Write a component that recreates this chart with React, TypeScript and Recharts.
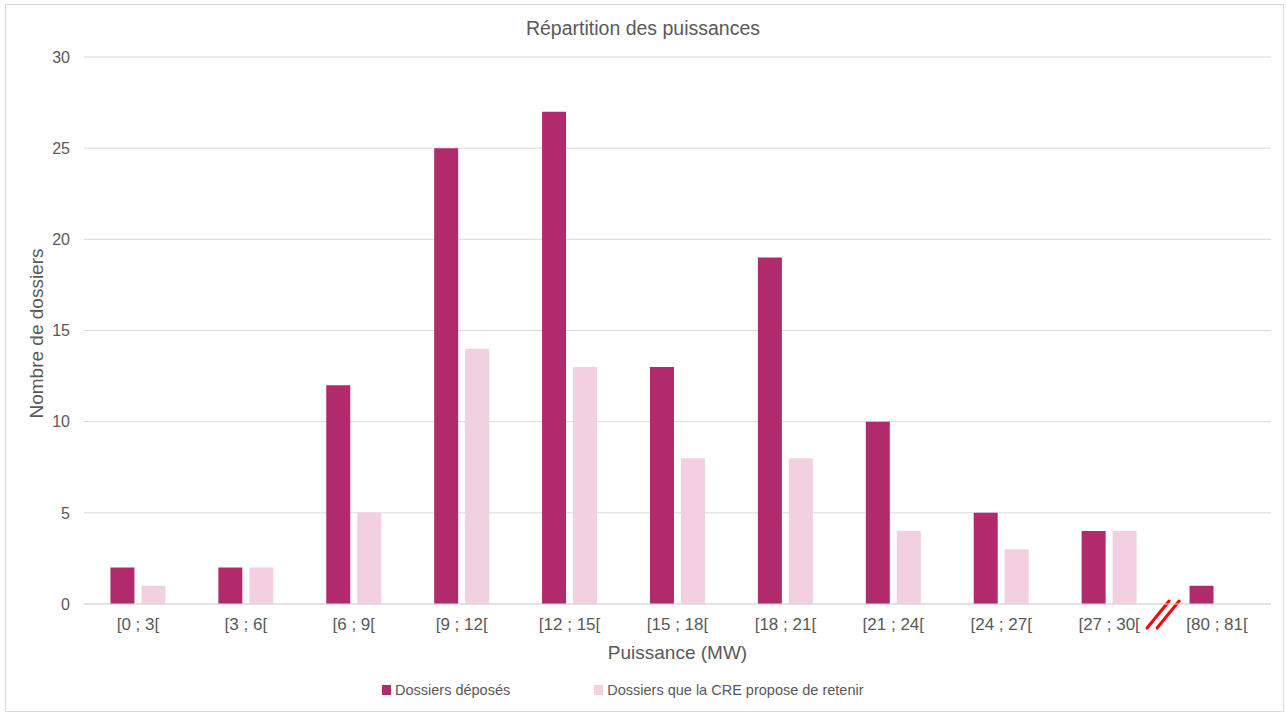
import React from "react";
import * as R from "recharts";
import {
  BarChart,
  Bar,
  XAxis,
  YAxis,
  CartesianGrid,
  Customized,
} from "recharts";

const categories = [
  "[0 ; 3[",
  "[3 ; 6[",
  "[6 ; 9[",
  "[9 ; 12[",
  "[12 ; 15[",
  "[15 ; 18[",
  "[18 ; 21[",
  "[21 ; 24[",
  "[24 ; 27[",
  "[27 ; 30[",
  "[80 ; 81[",
];
const deposes = [2, 2, 12, 25, 27, 13, 19, 10, 5, 4, 1];
const retenus = [1, 2, 5, 14, 13, 8, 8, 4, 3, 4, 0];
const yTicks = [0, 5, 10, 15, 20, 25, 30];

const data = categories.map((name, i) => ({
  name,
  deposes: deposes[i],
  retenus: retenus[i],
}));

const FONT = '"Liberation Sans", Arial, sans-serif';
const TEXT = "#595959";
const GRID = "#D9D9D9";
const DARK = "#B12A6B";
const LIGHT = "#F2D0E1";

const W = 1286;
const H = 715;
const MARGIN = { top: 57, right: 15, bottom: 51, left: 0 };

// axis break drawn between the last two categories
const BreakMark = () => {
  const usePA = (R as any).usePlotArea;
  const area = usePA ? usePA() : null;
  const x0 = area ? area.x : 84;
  const w = area ? area.width : W - 84 - MARGIN.right;
  const y0 = area ? area.y + area.height : H - 111;
  const cx = x0 + (w * (categories.length - 1)) / categories.length;
  const cy = y0 + 10;
  return (
    <g stroke="#FF0000" strokeWidth={3} strokeLinecap="round">
      <line x1={cx - 16} y1={cy + 14} x2={cx + 6} y2={cy - 13} />
      <line x1={cx - 6} y1={cy + 14} x2={cx + 16} y2={cy - 13} />
    </g>
  );
};

const YLabel = (props: any) => {
  const vb = props.viewBox || {};
  const cy = vb.y + vb.height / 2 + 3;
  return (
    <text
      x={36}
      y={cy}
      transform={`rotate(-90, 36, ${cy})`}
      textAnchor="middle"
      dominantBaseline="central"
      fill={TEXT}
      fontSize={19}
      fontFamily={FONT}
    >
      Nombre de dossiers
    </text>
  );
};

const legendItems = [
  { label: "Dossiers déposés", color: DARK },
  { label: "Dossiers que la CRE propose de retenir", color: LIGHT },
];

export default function App() {
  return (
    <div
      style={{
        position: "absolute",
        left: 0,
        top: 0,
        width: W,
        height: H,
        background: "#fff",
        fontFamily: FONT,
      }}
    >
      <div
        style={{
          position: "absolute",
          left: 5,
          top: 4,
          width: 1277,
          height: 706,
          border: `1px solid ${GRID}`,
        }}
      />
      <div
        style={{
          position: "absolute",
          top: 17,
          width: W,
          textAlign: "center",
          color: TEXT,
          fontSize: 19.5,
        }}
      >
        Répartition des puissances
      </div>
      <div style={{ position: "absolute", left: 0, top: 0 }}>
        <BarChart
          width={W}
          height={H}
          data={data}
          margin={MARGIN}
          barCategoryGap="24.5%"
          barGap={7}
        >
          <CartesianGrid vertical={false} stroke={GRID} />
          <XAxis
            dataKey="name"
            axisLine={{ stroke: GRID }}
            tickLine={false}
            tickSize={0}
            tickMargin={14}
            height={60}
            interval={0}
            tick={{ fill: TEXT, fontSize: 17, fontFamily: FONT }}
            label={{
              value: "Puissance (MW)",
              position: "insideBottom",
              offset: 5,
              fill: TEXT,
              fontSize: 19,
              fontFamily: FONT,
            }}
          />
          <YAxis
            width={84}
            domain={[0, 30]}
            ticks={yTicks}
            axisLine={false}
            tickLine={false}
            tickSize={0}
            tickMargin={14}
            tick={{ fill: TEXT, fontSize: 16, fontFamily: FONT }}
            label={<YLabel />}
          />
          <Bar dataKey="deposes" fill={DARK} isAnimationActive={false} />
          <Bar dataKey="retenus" fill={LIGHT} isAnimationActive={false} />
          <Customized component={<BreakMark />} />
        </BarChart>
      </div>
      <div
        style={{
          position: "absolute",
          left: 382,
          top: 682,
          display: "flex",
          gap: 84,
          color: TEXT,
          fontSize: 14.5,
        }}
      >
        {legendItems.map((it) => (
          <div key={it.label} style={{ display: "flex", alignItems: "center" }}>
            <span
              style={{
                width: 9,
                height: 10,
                background: it.color,
                marginRight: 4,
                display: "inline-block",
              }}
            />
            {it.label}
          </div>
        ))}
      </div>
    </div>
  );
}
